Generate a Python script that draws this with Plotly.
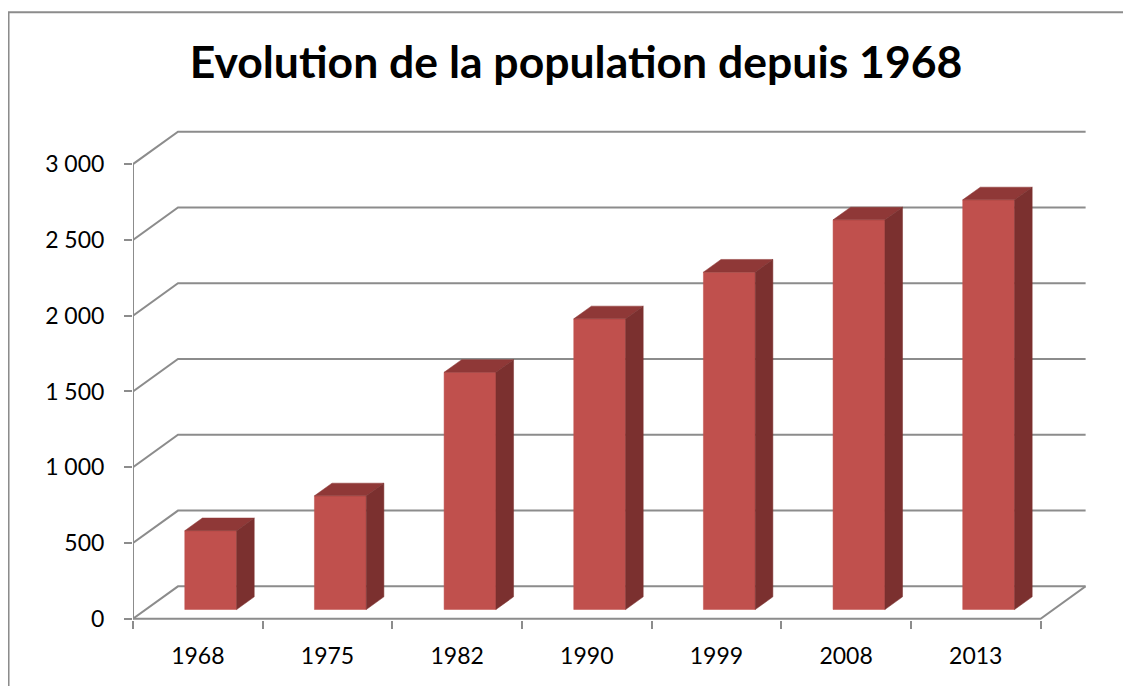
import plotly.graph_objects as go

# data
years = ["1968", "1975", "1982", "1990", "1999", "2008", "2013"]
population = [520, 750, 1565, 1918, 2226, 2571, 2703]
y_ticks = [0, 500, 1000, 1500, 2000, 2500, 3000]
y_tick_text = ["0", "500", "1 000", "1 500", "2 000", "2 500", "3 000"]

# fake 3d: oblique offset of the back wall, in axis units
DX = 0.347      # category units
DY = 214        # value units
F0, F1 = 0.286, 0.677   # depth of bar front / back plane
HW = 0.2        # half bar width

FRONT = "#C0504D"
TOP = "#8F3837"
SIDE = "#7B302F"
GRID = "#8C8C8C"

n = len(years)
x_left, x_right = -0.5, n - 0.5

fig = go.Figure()

# back wall gridlines with their diagonal run to the front axis
gx, gy = [], []
for v in y_ticks:
    gx += [x_left, x_left + DX, x_right + DX, None]
    gy += [v, v + DY, v + DY, None]
# floor front edge and right edge, front value axis
gx += [x_left, x_right, x_right + DX, None, x_left, x_left]
gy += [0, 0, DY, None, 0, y_ticks[-1]]
fig.add_trace(go.Scatter(x=gx, y=gy, mode="lines", line=dict(color=GRID, width=2),
                         hoverinfo="skip", showlegend=False))

# bars: front, top and side faces
for i, v in enumerate(population):
    xa, xb = i - HW + F0 * DX, i + HW + F0 * DX
    xc, xd = i - HW + F1 * DX, i + HW + F1 * DX
    b0, b1 = F0 * DY, F1 * DY
    faces = [
        ([xa, xb, xb, xa, xa], [b0, b0, v + b0, v + b0, b0], FRONT),
        ([xa, xb, xd, xc, xa], [v + b0, v + b0, v + b1, v + b1, v + b0], TOP),
        ([xb, xd, xd, xb, xb], [b0, b1, v + b1, v + b0, b0], SIDE),
    ]
    for fx, fy, col in faces:
        fig.add_trace(go.Scatter(x=fx, y=fy, mode="lines", fill="toself", fillcolor=col,
                                 line=dict(color=col, width=0.5), name=years[i],
                                 hoverinfo="skip", showlegend=False))

# dummy trace so the tick-mark axis is drawn
fig.add_trace(go.Scatter(x=[None], y=[None], xaxis="x2", showlegend=False, hoverinfo="skip"))

# page body has an 8px margin, so the figure is drawn 8px smaller and shifted
font = "Lato, 'Open Sans', sans-serif"
fig.update_layout(
    width=1123, height=678,
    margin=dict(l=125, r=44.7, t=117, b=65.5),
    paper_bgcolor="white", plot_bgcolor="white",
    font=dict(family=font, color="black"),
    title=dict(text="<b>Evolution de la population depuis 1968</b>",
               x=0.5058, xanchor="center", y=0.919, yanchor="middle",
               font=dict(size=44.5, family=font, color="black")),
    xaxis=dict(range=[x_left, x_right + DX + 0.003], tickvals=list(range(n)), ticktext=years,
               ticks="", showgrid=False, zeroline=False, showline=False,
               tickfont=dict(size=23), ticklabelstandoff=20),
    xaxis2=dict(range=[x_left, x_right + DX + 0.003], overlaying="x", anchor="y", side="bottom",
                tickvals=[x_left + k for k in range(n + 1)], ticks="outside", ticklen=8,
                tickwidth=1.5, tickcolor=GRID, showticklabels=False, showgrid=False,
                zeroline=False, showline=False),
    yaxis=dict(range=[-8, 3258], tickvals=y_ticks, ticktext=y_tick_text, ticks="outside",
               ticklen=8, tickwidth=1.5, tickcolor=GRID, showgrid=False, zeroline=False,
               showline=False, tickfont=dict(size=23), ticklabelstandoff=15),
    shapes=[dict(type="path", xref="paper", yref="paper",
                 path="M -0.1306,-0.2 L -0.1306,1.228 L 1.1,1.228",
                 line=dict(color="#8C8C8C", width=2))],
)

fig.write_html("out.html")
